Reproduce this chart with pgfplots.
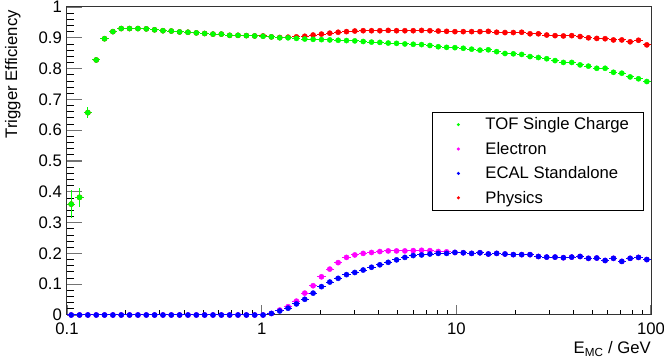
\documentclass[border=0pt]{standalone}
\usepackage{pgfplots}
\usepackage{pgfplotstable}
\pgfplotsset{compat=1.18}
\usepackage{fontspec}
\setmainfont{Liberation Sans}
\definecolor{rgreen}{RGB}{0,255,0}
\definecolor{rmag}{RGB}{255,0,255}
\definecolor{rblue}{RGB}{0,0,255}
\definecolor{rred}{RGB}{255,0,0}

% x = bin centre (GeV), y = efficiency, e = y error
\pgfplotstableread{
x y e
0.1051 0.360 0.045
0.1160 0.382 0.031
0.1280 0.657 0.019
0.1413 0.828 0.006
0.1559 0.897 0.004
0.1721 0.920 0.003
0.1899 0.930 0.003
0.2096 0.930 0.003
0.2314 0.930 0.002
0.2554 0.929 0.002
0.2818 0.926 0.002
0.3111 0.923 0.002
0.3433 0.922 0.002
0.3789 0.919 0.002
0.4182 0.918 0.002
0.4616 0.916 0.002
0.5095 0.914 0.002
0.5623 0.912 0.002
0.6207 0.912 0.002
0.6850 0.908 0.002
0.7561 0.908 0.002
0.8345 0.907 0.002
0.9211 0.906 0.002
1.0166 0.905 0.002
1.1220 0.903 0.002
1.2384 0.900 0.002
1.3668 0.900 0.002
1.5086 0.898 0.002
1.6651 0.896 0.002
1.8378 0.895 0.002
2.0284 0.894 0.002
2.2387 0.893 0.002
2.4709 0.892 0.002
2.7272 0.891 0.002
3.0101 0.890 0.002
3.3223 0.888 0.002
3.6668 0.886 0.002
4.0471 0.885 0.002
4.4668 0.883 0.002
4.9301 0.882 0.002
5.4415 0.880 0.002
6.0058 0.879 0.002
6.6288 0.878 0.002
7.3163 0.875 0.002
8.0751 0.871 0.002
8.9125 0.869 0.002
9.8369 0.868 0.002
10.857 0.866 0.002
11.983 0.863 0.002
13.226 0.860 0.002
14.598 0.861 0.002
16.112 0.855 0.002
17.783 0.849 0.002
19.627 0.848 0.002
21.663 0.846 0.002
23.910 0.839 0.002
26.390 0.836 0.002
29.127 0.832 0.002
32.148 0.826 0.002
35.481 0.820 0.002
39.161 0.820 0.002
43.223 0.812 0.002
47.706 0.808 0.002
52.654 0.801 0.002
58.115 0.801 0.002
64.143 0.788 0.002
70.796 0.785 0.002
78.137 0.773 0.002
86.241 0.767 0.002
95.186 0.758 0.002
}\tof

\pgfplotstableread{
x y e
0.1051 0.360 0.045
0.1160 0.382 0.031
0.1280 0.657 0.019
0.1413 0.828 0.006
0.1559 0.897 0.004
0.1721 0.920 0.003
0.1899 0.930 0.003
0.2096 0.930 0.003
0.2314 0.930 0.002
0.2554 0.929 0.002
0.2818 0.926 0.002
0.3111 0.923 0.002
0.3433 0.922 0.002
0.3789 0.919 0.002
0.4182 0.918 0.002
0.4616 0.916 0.002
0.5095 0.914 0.002
0.5623 0.912 0.002
0.6207 0.912 0.002
0.6850 0.908 0.002
0.7561 0.908 0.002
0.8345 0.907 0.002
0.9211 0.906 0.002
1.0166 0.906 0.002
1.1220 0.903 0.002
1.2384 0.901 0.002
1.3668 0.902 0.002
1.5086 0.903 0.002
1.6651 0.905 0.002
1.8378 0.909 0.002
2.0284 0.912 0.002
2.2387 0.915 0.002
2.4709 0.918 0.002
2.7272 0.920 0.002
3.0101 0.922 0.002
3.3223 0.923 0.002
3.6668 0.923 0.002
4.0471 0.923 0.002
4.4668 0.924 0.002
4.9301 0.923 0.002
5.4415 0.923 0.002
6.0058 0.923 0.002
6.6288 0.924 0.002
7.3163 0.923 0.002
8.0751 0.922 0.002
8.9125 0.921 0.002
9.8369 0.920 0.002
10.857 0.920 0.002
11.983 0.920 0.002
13.226 0.920 0.002
14.598 0.921 0.002
16.112 0.918 0.002
17.783 0.917 0.002
19.627 0.917 0.002
21.663 0.918 0.002
23.910 0.913 0.002
26.390 0.913 0.002
29.127 0.909 0.002
32.148 0.907 0.002
35.481 0.906 0.002
39.161 0.907 0.002
43.223 0.904 0.002
47.706 0.900 0.002
52.654 0.898 0.002
58.115 0.897 0.002
64.143 0.893 0.002
70.796 0.893 0.002
78.137 0.887 0.002
86.241 0.892 0.002
95.186 0.877 0.002
}\phys

\pgfplotstableread{
x y
0.1051 0
0.1160 0
0.1280 0
0.1413 0
0.1559 0
0.1721 0
0.1899 0
0.2096 0
0.2314 0
0.2554 0
0.2818 0
0.3111 0
0.3433 0
0.3789 0
0.4182 0
0.4616 0
0.5095 0
0.5623 0
0.6207 0
0.6850 0
0.7561 0
0.8345 0
0.9211 0
1.0166 0
1.1220 0.005
1.2384 0.016
1.3668 0.027
1.5086 0.045
1.6651 0.071
1.8378 0.095
2.0284 0.124
2.2387 0.149
2.4709 0.170
2.7272 0.187
3.0101 0.195
3.3223 0.200
3.6668 0.203
4.0471 0.206
4.4668 0.208
4.9301 0.208
5.4415 0.208
6.0058 0.209
6.6288 0.210
7.3163 0.209
8.0751 0.206
8.9125 0.205
9.8369 0.203
10.857 0.202
11.983 0.200
13.226 0.202
14.598 0.198
16.112 0.200
17.783 0.198
19.627 0.196
21.663 0.196
23.910 0.196
26.390 0.190
29.127 0.188
32.148 0.188
35.481 0.186
39.161 0.188
43.223 0.190
47.706 0.184
52.654 0.185
58.115 0.177
64.143 0.184
70.796 0.174
78.137 0.184
86.241 0.187
95.186 0.180
}\elec

\pgfplotstableread{
x y
0.1051 0
0.1160 0
0.1280 0
0.1413 0
0.1559 0
0.1721 0
0.1899 0
0.2096 0
0.2314 0
0.2554 0
0.2818 0
0.3111 0
0.3433 0
0.3789 0
0.4182 0
0.4616 0
0.5095 0
0.5623 0
0.6207 0
0.6850 0
0.7561 0
0.8345 0
0.9211 0
1.0166 0
1.1220 0.005
1.2384 0.013
1.3668 0.022
1.5086 0.036
1.6651 0.051
1.8378 0.071
2.0284 0.092
2.2387 0.107
2.4709 0.119
2.7272 0.131
3.0101 0.138
3.3223 0.146
3.6668 0.155
4.0471 0.163
4.4668 0.171
4.9301 0.179
5.4415 0.187
6.0058 0.193
6.6288 0.195
7.3163 0.198
8.0751 0.200
8.9125 0.200
9.8369 0.203
10.857 0.202
11.983 0.200
13.226 0.202
14.598 0.198
16.112 0.200
17.783 0.198
19.627 0.196
21.663 0.196
23.910 0.196
26.390 0.190
29.127 0.188
32.148 0.188
35.481 0.186
39.161 0.188
43.223 0.190
47.706 0.184
52.654 0.185
58.115 0.177
64.143 0.184
70.796 0.174
78.137 0.184
86.241 0.187
95.186 0.180
}\ecal

\begin{document}
\begin{tikzpicture}[font=\fontsize{16.7}{20}\selectfont]
\useasboundingbox (-67pt,-48pt) rectangle (597pt,315pt);
\begin{axis}[
  at={(0pt,0pt)}, anchor=south west,
  scale only axis, width=584pt, height=308pt,
  xmode=log, xmin=0.1, xmax=100, ymin=0, ymax=1,
  clip=false,
  axis line style={black!80, line width=1pt},
  xtick={0.1,1,10,100}, xticklabels={0.1,1,10,100},
  minor xtick={0.2,0.3,0.4,0.5,0.6,0.7,0.8,0.9,2,3,4,5,6,7,8,9,20,30,40,50,60,70,80,90},
  ytick={0,0.1,0.2,0.3,0.4,0.5,0.6,0.7,0.8,0.9,1},
  yticklabels={0,0.1,0.2,0.3,0.4,0.5,0.6,0.7,0.8,0.9,1},
  minor ytick={0.02,0.04,0.06,0.08,0.12,0.14,0.16,0.18,0.22,0.24,0.26,0.28,0.32,0.34,0.36,0.38,0.42,0.44,0.46,0.48,0.52,0.54,0.56,0.58,0.62,0.64,0.66,0.68,0.72,0.74,0.76,0.78,0.82,0.84,0.86,0.88,0.92,0.94,0.96,0.98},
  tick align=inside, tick pos=left,
  major tick style={black!55, line width=1.1pt},
  minor tick style={black, line width=0.8pt},
  xtick style={/pgfplots/major tick length=10pt, /pgfplots/minor tick length=5pt},
  ytick style={/pgfplots/major tick length=15pt, /pgfplots/minor tick length=7.5pt},
  xticklabel style={anchor=north, inner sep=0pt, yshift=-8pt},
  yticklabel style={anchor=east, inner sep=0pt, xshift=-5pt},
  xlabel={E\textsubscript{MC} / GeV},
  xlabel style={at={(axis description cs:1,-0.1266)}, anchor=base east, inner sep=0pt},
  ylabel={Trigger Efficiency},
  ylabel style={at={(axis description cs:-0.0856,0.990)}, anchor=base east, inner sep=0pt},
  legend style={at={(axis description cs:0.6250,0.659)}, anchor=north west,
    draw=black, line width=0.8pt, fill=white, inner xsep=0pt, inner ysep=0pt,
    nodes={inner sep=0pt, draw=none, fill=none}},
  legend cell align=left,
  legend image code/.code={\path[draw=none, fill=none] (-26pt,-12.2pt) rectangle (27pt,12.2pt); \fill[#1, draw=none] (0pt,0pt) circle (1.7pt);},
]
\addplot[only marks, mark=*, mark size=2.6pt, color=rred, forget plot,
  error bars/.cd, x dir=both, x fixed relative=0.049, y dir=both, y explicit,
  error mark=none, error bar style={line width=1pt, rred}]
  table[x=x, y=y, y error=e] {\phys};
\addplot[only marks, mark=*, mark size=2.6pt, color=rgreen, forget plot,
  error bars/.cd, x dir=both, x fixed relative=0.049, y dir=both, y explicit,
  error mark=none, error bar style={line width=1pt, rgreen}]
  table[x=x, y=y, y error=e] {\tof};
\addplot[only marks, mark=*, mark size=2.6pt, color=rmag, forget plot,
  error bars/.cd, x dir=both, x fixed relative=0.049,
  error mark=none, error bar style={line width=1pt, rmag}]
  table[x=x, y=y] {\elec};
\addplot[only marks, mark=*, mark size=2.6pt, color=rblue, forget plot,
  error bars/.cd, x dir=both, x fixed relative=0.049,
  error mark=none, error bar style={line width=1pt, rblue}]
  table[x=x, y=y] {\ecal};
\addlegendimage{color=rgreen}
\addlegendentry{\makebox[158pt][l]{TOF Single Charge}}
\addlegendimage{color=rmag}
\addlegendentry{Electron}
\addlegendimage{color=rblue}
\addlegendentry{ECAL Standalone}
\addlegendimage{color=rred}
\addlegendentry{Physics}
\end{axis}
\end{tikzpicture}
\end{document}
